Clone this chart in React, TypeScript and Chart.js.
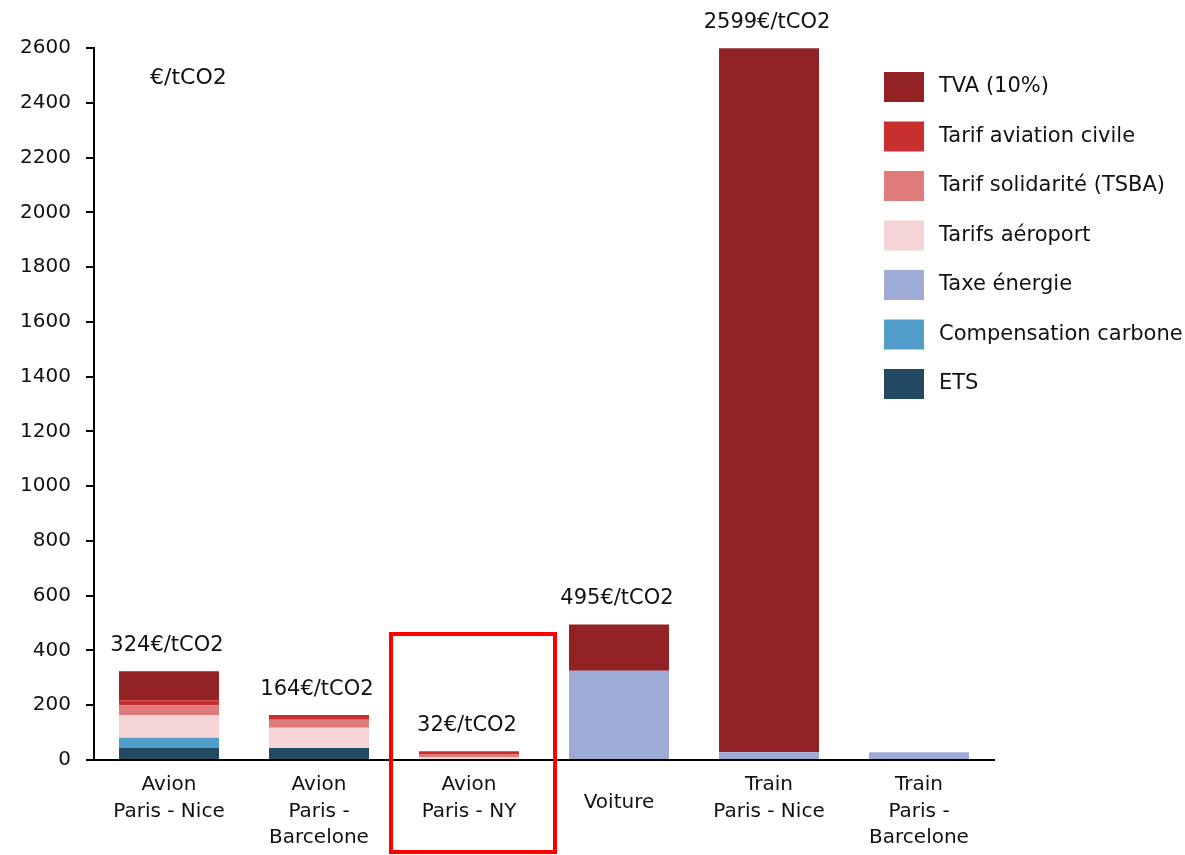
import { useEffect, useRef } from "react";
import { Chart, registerables } from "chart.js";

Chart.register(...registerables);

// Categories (multi-line tick labels)
const categories: string[][] = [
  ["Avion", "Paris - Nice"],
  ["Avion", "Paris -", "Barcelone"],
  ["Avion", "Paris - NY"],
  ["Voiture"],
  ["Train", "Paris - Nice"],
  ["Train", "Paris -", "Barcelone"],
];

// Components of the implicit carbon price, €/tCO2 (stacked bottom to top)
const ets = [44, 44, 0, 0, 0, 0];
const compensationCarbone = [37, 0, 0, 0, 0, 0];
const taxeEnergie = [0, 0, 0, 326, 28, 28];
const tarifsAeroport = [83, 74, 10, 0, 0, 0];
const tarifSolidarite = [36, 29, 12, 0, 0, 0];
const tarifAviationCivile = [18, 17, 10, 0, 0, 0];
const tva = [106, 0, 0, 169, 2571, 0];

// Which categories get a total label above the bar
const showTotal = [true, true, true, true, true, false];

const unitLabel = "€/tCO2";
const totalSuffix = "€/tCO2";
const highlightedCategory = 2;

const FONT = "'DejaVu Sans', sans-serif";
const TEXT = "#111111";

const overlayPlugin = {
  id: "overlay",
  afterDatasetsDraw(chart: any) {
    const { ctx, chartArea, scales } = chart;
    const x = scales.x;
    const y = scales.y;
    ctx.save();

    // Totals above the stacks
    ctx.fillStyle = TEXT;
    ctx.font = `21px ${FONT}`;
    ctx.textAlign = "center";
    ctx.textBaseline = "middle";
    categories.forEach((_, i) => {
      if (!showTotal[i]) return;
      const total = chart.data.datasets.reduce(
        (s: number, d: any) => s + (Number(d.data[i]) || 0),
        0
      );
      ctx.fillText(
        `${total}${totalSuffix}`,
        x.getPixelForValue(i) - 2,
        y.getPixelForValue(total) - 26
      );
    });

    // Unit label in the top-left corner of the plot
    ctx.textAlign = "left";
    ctx.font = `22px ${FONT}`;
    ctx.fillText(unitLabel, chartArea.left + 56, chartArea.top + 30);

    // Legend (top series first)
    const ds = [...chart.data.datasets].reverse();
    const boxX = chartArea.right - 110;
    const top0 = chartArea.top + 24;
    const step = 49.5;
    ctx.font = `21px ${FONT}`;
    ds.forEach((d: any, k: number) => {
      const by = top0 + k * step;
      ctx.fillStyle = d.backgroundColor;
      ctx.fillRect(boxX, by, 40, 30);
      ctx.fillStyle = TEXT;
      ctx.fillText(d.label, boxX + 55, by + 15);
    });

    // Highlight frame around one category
    const cx = x.getPixelForValue(highlightedCategory);
    const frameTop = chartArea.bottom - 126;
    ctx.strokeStyle = "#ff0000";
    ctx.lineWidth = 4;
    ctx.strokeRect(cx - 78, frameTop, 164, chart.height - 3 - frameTop);

    ctx.restore();
  },
};

export default function App() {
  const canvasRef = useRef<HTMLCanvasElement | null>(null);

  useEffect(() => {
    const canvas = canvasRef.current;
    if (!canvas) return;

    const chart = new Chart(canvas, {
      type: "bar",
      data: {
        labels: categories,
        datasets: [
          { label: "ETS", data: ets, backgroundColor: "#224a63" },
          { label: "Compensation carbone", data: compensationCarbone, backgroundColor: "#519dc9" },
          { label: "Taxe énergie", data: taxeEnergie, backgroundColor: "#9dabd6" },
          { label: "Tarifs aéroport", data: tarifsAeroport, backgroundColor: "#f4d4d4" },
          { label: "Tarif solidarité (TSBA)", data: tarifSolidarite, backgroundColor: "#e07b7b" },
          { label: "Tarif aviation civile", data: tarifAviationCivile, backgroundColor: "#c8302f" },
          { label: "TVA (10%)", data: tva, backgroundColor: "#922224" },
        ],
      },
      options: {
        responsive: false,
        animation: false,
        devicePixelRatio: 1,
        layout: { padding: { top: 48, right: 191, left: 0, bottom: 0 } },
        datasets: { bar: { barPercentage: 2 / 3, categoryPercentage: 1, borderWidth: 0 } },
        plugins: { legend: { display: false }, tooltip: { enabled: false } },
        scales: {
          x: {
            stacked: true,
            grid: { display: false, drawTicks: false },
            border: { display: true, color: "#000", width: 2 },
            ticks: {
              color: TEXT,
              padding: 12,
              maxRotation: 0,
              autoSkip: false,
              font: (c: any) => ({
                family: FONT,
                size: 20,
                lineHeight: c.index === 3 ? 3.1 : 1.325,
              }),
            },
            afterFit: (s: any) => {
              s.height = 95;
            },
          },
          y: {
            stacked: true,
            min: 0,
            max: 2600,
            ticks: {
              stepSize: 200,
              color: TEXT,
              padding: 15,
              font: { family: FONT, size: 20 },
              callback: (v: any) => String(v),
            },
            grid: {
              drawOnChartArea: false,
              drawTicks: true,
              tickLength: 8,
              color: "#000",
              lineWidth: 2,
            },
            border: { color: "#000", width: 2 },
            afterFit: (s: any) => {
              s.width = 94;
            },
          },
        },
      },
      plugins: [overlayPlugin],
    });

    return () => chart.destroy();
  }, []);

  return (
    <div
      style={{
        position: "fixed",
        left: 0,
        top: 0,
        width: 1185,
        height: 855,
        background: "#fff",
      }}
    >
      <canvas ref={canvasRef} width={1185} height={855} />
    </div>
  );
}
